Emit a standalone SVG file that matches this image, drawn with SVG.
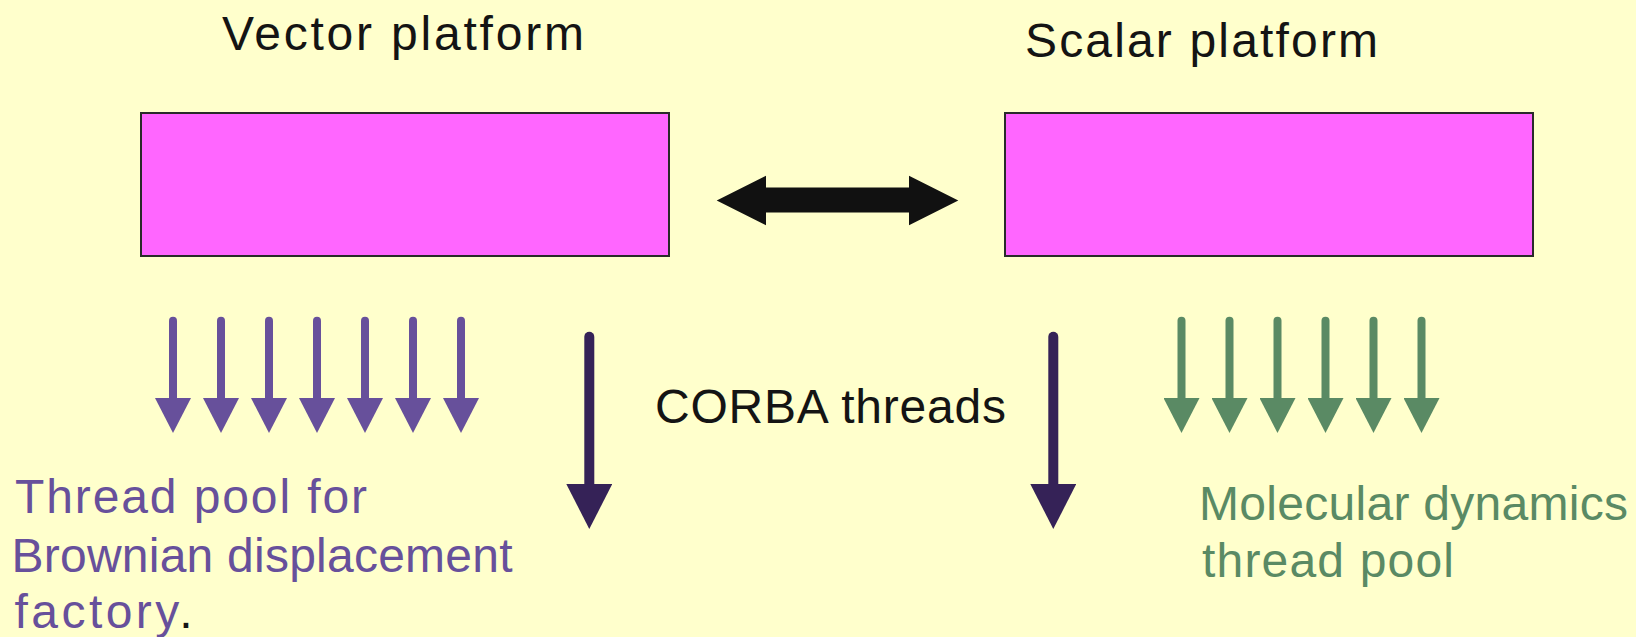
<svg xmlns="http://www.w3.org/2000/svg" width="1636" height="637" viewBox="0 0 1636 637">
<style>
text{font-family:"Liberation Sans",Arial,sans-serif;font-size:48px}
.dark{fill:#141414}
.pur{fill:#67509B}
.grn{fill:#5A8A64}
.box{fill:#FF66FF;stroke:#2A2A2A;stroke-width:2}
.pl{stroke:#67509B;stroke-width:8;stroke-linecap:round;fill:none}
.gl{stroke:#5A8A64;stroke-width:8;stroke-linecap:round;fill:none}
.dl{stroke:#352257;stroke-width:10;stroke-linecap:round;fill:none}
</style>
<defs>
<marker id="mp" markerUnits="userSpaceOnUse" viewBox="0 -18 35 36" markerWidth="35" markerHeight="36" refX="2" refY="0" orient="auto"><path d="M0,-18 L35,0 L0,18 Z" fill="#67509B"/></marker>
<marker id="mg" markerUnits="userSpaceOnUse" viewBox="0 -18 35 36" markerWidth="35" markerHeight="36" refX="2" refY="0" orient="auto"><path d="M0,-18 L35,0 L0,18 Z" fill="#5A8A64"/></marker>
<marker id="md" markerUnits="userSpaceOnUse" viewBox="0 -23 45 46" markerWidth="45" markerHeight="46" refX="2" refY="0" orient="auto"><path d="M0,-23 L45,0 L0,23 Z" fill="#352257"/></marker>
</defs>
<rect width="1636" height="637" fill="#FFFFCC"/>
<g id="vector-platform">
<text class="dark" x="222" y="50" textLength="362" lengthAdjust="spacing">Vector platform</text>
<rect class="box" x="141" y="113" width="528" height="143"/>
</g>
<g id="scalar-platform">
<text class="dark" x="1025" y="56.5" textLength="353" lengthAdjust="spacing">Scalar platform</text>
<rect class="box" x="1005" y="113" width="528" height="143"/>
</g>
<g id="connectors">
<polygon points="716.7,200.5 766,175.7 766,187.5 909,187.5 909,175.7 958.3,200.5 909,225.3 909,212.5 766,212.5 766,225.3" fill="#111111"/>
<g class="pl" marker-end="url(#mp)">
<line x1="173" y1="320.7" x2="173" y2="400"/>
<line x1="221" y1="320.7" x2="221" y2="400"/>
<line x1="269" y1="320.7" x2="269" y2="400"/>
<line x1="317" y1="320.7" x2="317" y2="400"/>
<line x1="365" y1="320.7" x2="365" y2="400"/>
<line x1="413" y1="320.7" x2="413" y2="400"/>
<line x1="461" y1="320.7" x2="461" y2="400"/>
</g>
<g class="gl" marker-end="url(#mg)">
<line x1="1181.5" y1="320.7" x2="1181.5" y2="400"/>
<line x1="1229.5" y1="320.7" x2="1229.5" y2="400"/>
<line x1="1277.5" y1="320.7" x2="1277.5" y2="400"/>
<line x1="1325.5" y1="320.7" x2="1325.5" y2="400"/>
<line x1="1373.5" y1="320.7" x2="1373.5" y2="400"/>
<line x1="1421.5" y1="320.7" x2="1421.5" y2="400"/>
</g>
<g class="dl" marker-end="url(#md)">
<line x1="589.3" y1="336.7" x2="589.3" y2="486"/>
<line x1="1053.3" y1="336.7" x2="1053.3" y2="486"/>
</g>
</g>
<g id="corba-label">
<text class="dark" x="655" y="423.3" textLength="351" lengthAdjust="spacing">CORBA threads</text>
</g>
<g id="vector-pool-label">
<text class="pur" x="15" y="513.3" textLength="352" lengthAdjust="spacing">Thread pool for</text>
<text class="pur" x="11.5" y="571.7" textLength="501" lengthAdjust="spacing">Brownian displacement</text>
<text class="pur" x="14.5" y="628.3" textLength="178" lengthAdjust="spacing">factory<tspan class="dark">.</tspan></text>
</g>
<g id="scalar-pool-label">
<text class="grn" x="1199" y="520" textLength="429" lengthAdjust="spacing">Molecular dynamics</text>
<text class="grn" x="1202" y="576.7" textLength="252" lengthAdjust="spacing">thread pool</text>
</g>
</svg>
